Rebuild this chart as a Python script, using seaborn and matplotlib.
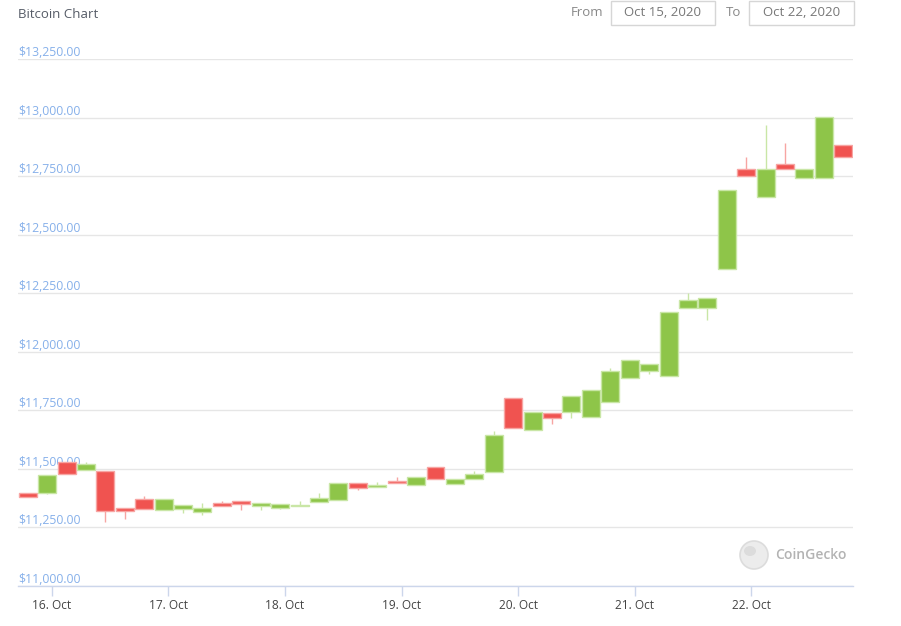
import numpy as np
import pandas as pd
import matplotlib
matplotlib.use("Agg")
import matplotlib.pyplot as plt
import matplotlib.dates as mdates
from matplotlib.patches import Rectangle, Ellipse
import seaborn as sns

# ---------------- data (4-hour candles, USD) ----------------
start_time = "2020-10-15 19:00"
opens = [11398, 11398, 11530, 11495, 11492, 11331, 11370, 11324, 11330, 11316,
         11353, 11363, 11343, 11334, 11341, 11358, 11368, 11439, 11424, 11449,
         11431, 11506, 11434, 11456, 11485, 11801, 11668, 11737, 11744, 11720,
         11785, 11887, 11916, 11897, 12189, 12189, 12354, 12782, 12662, 12800,
         12742, 12742, 12881]
closes = [11378, 11473, 11478, 11523, 11320, 11320, 11327, 11370, 11345, 11333,
          11343, 11350, 11355, 11350, 11347, 11374, 11441, 11419, 11432, 11438,
          11464, 11458, 11458, 11478, 11645, 11673, 11745, 11718, 11811, 11835,
          11918, 11965, 11946, 12168, 12223, 12229, 12692, 12752, 12782, 12779,
          12782, 13002, 12832]
highs = [11398, 11473, 11530, 11529, 11492, 11331, 11384, 11370, 11345, 11354,
         11363, 11363, 11355, 11350, 11363, 11395, 11441, 11439, 11442, 11465,
         11464, 11506, 11458, 11489, 11661, 11801, 11745, 11737, 11811, 11835,
         11929, 11965, 11946, 12168, 12253, 12229, 12692, 12830, 12967, 12891,
         12782, 13002, 12881]
lows = [11378, 11393, 11478, 11495, 11272, 11286, 11327, 11324, 11311, 11303,
        11343, 11324, 11324, 11328, 11341, 11358, 11368, 11412, 11424, 11438,
        11431, 11458, 11434, 11456, 11485, 11673, 11668, 11691, 11718, 11720,
        11785, 11887, 11906, 11897, 12189, 12136, 12354, 12752, 12662, 12779,
        12742, 12742, 12832]
y_ticks = [11000, 11250, 11500, 11750, 12000, 12250, 12500, 12750, 13000, 13250]
y_tick_labels = ["$11,000.00", "$11,250.00", "$11,500.00", "$11,750.00", "$12,000.00",
                 "$12,250.00", "$12,500.00", "$12,750.00", "$13,000.00", "$13,250.00"]
x_tick_dates = ["2020-10-16", "2020-10-17", "2020-10-18", "2020-10-19",
                "2020-10-20", "2020-10-21", "2020-10-22"]
x_tick_labels = ["16. Oct", "17. Oct", "18. Oct", "19. Oct", "20. Oct", "21. Oct", "22. Oct"]
title = "Bitcoin Chart"
date_from = "Oct 15, 2020"
date_to = "Oct 22, 2020"

df = pd.DataFrame({"open": opens, "close": closes, "high": highs, "low": lows})
df["time"] = pd.date_range(start_time, periods=len(df), freq="4h")
df["up"] = df["close"] >= df["open"]

# ---------------- style ----------------
sns.set_theme(style="white")
plt.rcParams["font.family"] = ["Open Sans", "DejaVu Sans"]

GREEN = "#8ec549"
GREEN_EDGE = "#c9e6a6"
RED = "#f05350"
RED_EDGE = "#f7a5a3"
GRID = "#e6e6e6"
AXIS = "#ccd6eb"
YLAB = "#86b0ea"

W, H = 901, 626
fig = plt.figure(figsize=(W / 100, H / 100), dpi=100)
ax = fig.add_axes([18 / W, 40 / H, 835 / W, 527 / H])

x = mdates.date2num(df["time"])
width = 3.7 / 24.0

# wicks
wick_colors = np.where(df["up"], GREEN_EDGE, RED_EDGE)
ax.vlines(x, df["low"], df["high"], colors=wick_colors, linewidth=1.0, zorder=2)

# bodies
bottoms = np.minimum(df["open"], df["close"])
heights = np.abs(df["close"] - df["open"])
face = np.where(df["up"], GREEN, RED)
edge = np.where(df["up"], GREEN_EDGE, RED_EDGE)
ax.bar(x, heights, bottom=bottoms, width=width, color=face, edgecolor=edge,
       linewidth=1.0, zorder=3, align="center")

# axes ranges
first = x[0] - width / 2 - 0.15 / 24
last = x[-1] + width / 2 + 0.15 / 24
ax.set_xlim(first, last)
ax.set_ylim(y_ticks[0], y_ticks[-1])

# grid
ax.set_yticks(y_ticks)
ax.set_yticklabels([])
ax.tick_params(axis="y", length=0)
ax.yaxis.grid(True, color=GRID, linewidth=1.0)
ax.set_axisbelow(True)
for yv, lab in zip(y_ticks, y_tick_labels):
    ax.text(0.0, yv, lab, transform=ax.get_yaxis_transform(), ha="left", va="bottom",
            color=YLAB, fontsize=8.8, zorder=1)

# x axis
ax.set_xticks(mdates.date2num(pd.to_datetime(x_tick_dates)))
ax.set_xticklabels(x_tick_labels)
ax.tick_params(axis="x", length=7.5, width=1, color=AXIS, labelcolor="#444444",
               labelsize=8.6, pad=2, direction="out", bottom=True)
for s in ["top", "right", "left"]:
    ax.spines[s].set_visible(False)
ax.spines["bottom"].set_color(AXIS)
ax.spines["bottom"].set_linewidth(1.0)

# header texts
fig.text(18 / W, 1 - 14 / H, title, ha="left", va="center", color="#555b66", fontsize=9.5)
fig.text(603 / W, 1 - 13 / H, "From", ha="right", va="center", color="#888888", fontsize=9.5)
fig.text(741 / W, 1 - 13 / H, "To", ha="right", va="center", color="#888888", fontsize=9.5)
for (x0, x1, txt) in [(611, 715, date_from), (749, 854, date_to)]:
    fig.patches.append(Rectangle((x0 / W, 1 - 25 / H), (x1 - x0) / W, 24 / H,
                                 transform=fig.transFigure, facecolor="white",
                                 edgecolor="#d6d6d6", linewidth=1.0))
    fig.text((x0 + x1) / 2 / W, 1 - 13 / H, txt, ha="center", va="center",
             color="#777777", fontsize=9.5)

# watermark
fig.patches.append(Ellipse((754 / W, 1 - 555 / H), 28 / W, 28 / H, transform=fig.transFigure,
                           facecolor="#ececec", edgecolor="#dcdcdc", linewidth=1.2))
fig.patches.append(Ellipse((750 / W, 1 - 551 / H), 12 / W, 10 / H, transform=fig.transFigure,
                           facecolor="#dcdcdc", edgecolor="none"))
fig.text(775 / W, 1 - 555 / H, "CoinGecko", ha="left", va="center", color="#b3b3b3",
         fontsize=10, fontweight="semibold")

fig.savefig("out.png", dpi=100, facecolor="white")
